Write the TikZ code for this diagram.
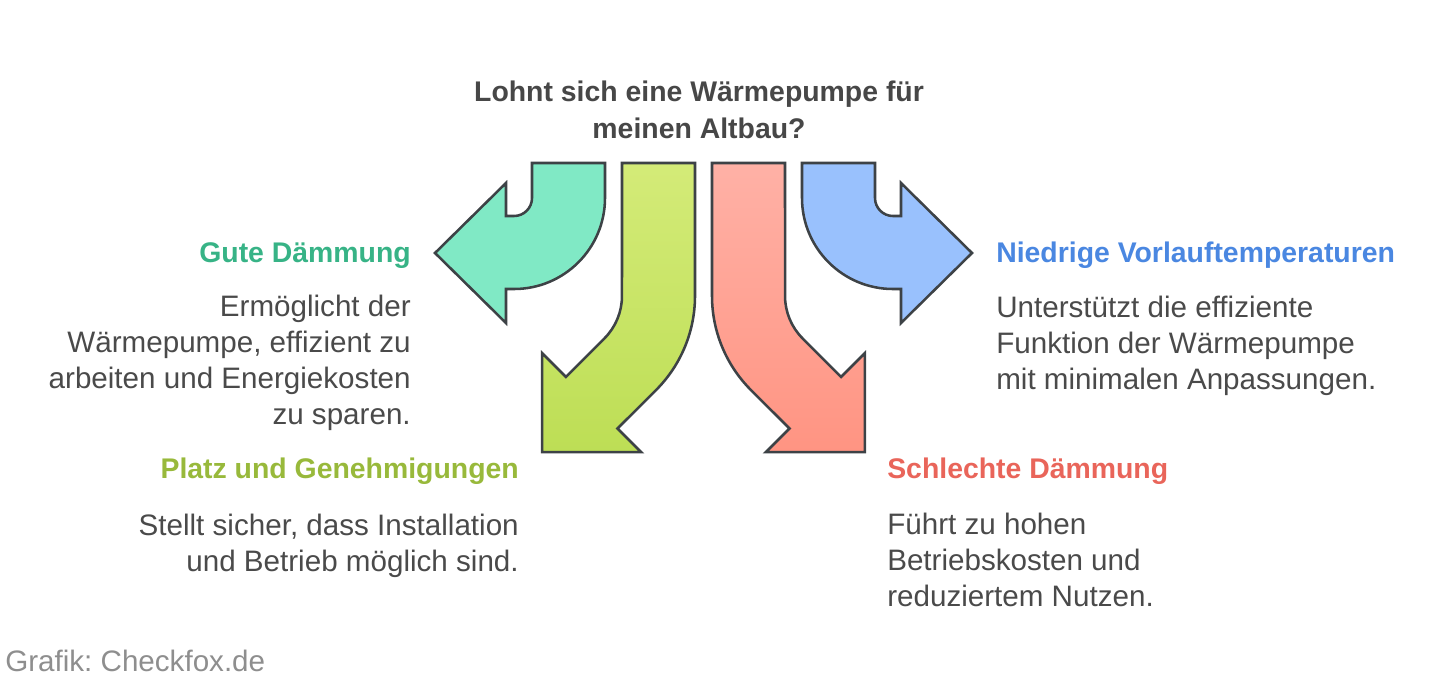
\documentclass[tikz,border=0pt]{standalone}
\usepackage{fontspec}
\setmainfont{Liberation Sans}
\frenchspacing

\definecolor{edgegray}{HTML}{3D4246}
\definecolor{titlegray}{HTML}{474747}
\definecolor{bodygray}{HTML}{4A4A4A}
\definecolor{footgray}{HTML}{8E8E8E}
\definecolor{tealfill}{HTML}{80E9C5}
\definecolor{tealtxt}{HTML}{37B386}
\definecolor{greentop}{HTML}{D4EB78}
\definecolor{greenbot}{HTML}{BDDE55}
\definecolor{greentxt}{HTML}{98B93B}
\definecolor{redtop}{HTML}{FFB1A6}
\definecolor{redbot}{HTML}{FF9482}
\definecolor{redtxt}{HTML}{E9655A}
\definecolor{bluefill}{HTML}{99C1FD}
\definecolor{bluetxt}{HTML}{4A87E1}

\begin{document}
\begin{tikzpicture}[
  x=0.75pt, y=-0.75pt,
  head/.style ={font=\fontsize{21.3}{27.5}\selectfont\bfseries, inner sep=0pt},
  body/.style ={font=\fontsize{22.2}{26.8}\selectfont, text=bodygray, inner sep=0pt},
  arr/.style  ={draw=edgegray, line width=1.9pt},
]
\useasboundingbox (0,0) rectangle (1443,687);

% =========================== TITLE ==================================
% (base anchor of a multi-line node = baseline of its last line)
\node[head, text=titlegray, align=center, anchor=base] (title) at (699,138.5)
  {Lohnt sich eine Wärmepumpe für\\meinen Altbau?};

% =========================== ARROWS =================================
% teal: bends to the left
\draw[arr, fill=tealfill] (532,163) -- (605,163) -- (605,198)
  arc[start angle=0, end angle=90, radius=91] -- (506,289) -- (506,323)
  -- (435,253) -- (506,183) -- (506,216) -- (514,216)
  arc[start angle=90, end angle=0, radius=18] -- cycle;
% green: down, then down-left
\draw[arr, top color=greentop, bottom color=greenbot] (622,163) -- (695,163) -- (695,296)
  arc[start angle=0, end angle=45, radius=133] -- (617.5,428.5) -- (641.2,452.2)
  -- (542.2,452.2) -- (542.2,353.2) -- (565.9,376.9) -- (604.4,338.4)
  arc[start angle=45, end angle=0, radius=60] -- cycle;
% red: down, then down-right
\draw[arr, top color=redtop, bottom color=redbot] (785,163) -- (712,163) -- (712,296)
  arc[start angle=180, end angle=135, radius=133] -- (789.5,428.5) -- (765.8,452.2)
  -- (864.8,452.2) -- (864.8,353.2) -- (841.1,376.9) -- (802.6,338.4)
  arc[start angle=135, end angle=180, radius=60] -- cycle;
% blue: bends to the right
\draw[arr, fill=bluefill] (875,163) -- (802,163) -- (802,198)
  arc[start angle=180, end angle=90, radius=91] -- (901,289) -- (901,323)
  -- (972,253) -- (901,183) -- (901,216) -- (893,216)
  arc[start angle=90, end angle=180, radius=18] -- cycle;

% =========================== LABELS =================================
\node[head, text=tealtxt, anchor=base east] (gute) at (411,262) {Gute Dämmung};
\node[body, align=right, anchor=base east] (gutetxt) at (411,424)
  {Ermöglicht der\\Wärmepumpe, effizient zu\\arbeiten und Energiekosten\\zu sparen.};

\node[head, text=greentxt, anchor=base east] (platz) at (519,478) {Platz und Genehmigungen};
\node[body, align=right, anchor=base east] (platztxt) at (519,571)
  {Stellt sicher, dass Installation\\und Betrieb möglich sind.};

\node[head, text=bluetxt, anchor=base west] (vorlauf) at (996,262) {Niedrige Vorlauftemperaturen};
\node[body, align=left, anchor=base west] (vorlauftxt) at (996,389)
  {Unterstützt die effiziente\\Funktion der Wärmepumpe\\mit minimalen Anpassungen.};

\node[head, text=redtxt, anchor=base west] (schlecht) at (887,478) {Schlechte Dämmung};
\node[body, align=left, anchor=base west] (schlechttxt) at (887,606)
  {Führt zu hohen\\Betriebskosten und\\reduziertem Nutzen.};

% =========================== SOURCE =================================
\node[body, text=footgray, anchor=base west] (quelle) at (5,671) {Grafik: Checkfox.de};

\end{tikzpicture}
\end{document}
